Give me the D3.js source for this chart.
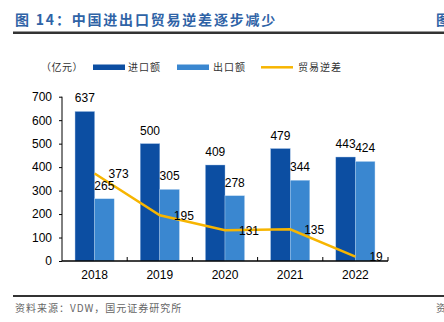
<!DOCTYPE html>
<html>
<head>
<meta charset="utf-8">
<script src="https://cdn.jsdelivr.net/npm/d3@7"></script>
<style>
  body { margin: 0; background: #fff; }
  svg { display: block; }
</style>
</head>
<body>
<script>
// data
var years = ["2018", "2019", "2020", "2021", "2022"];
var imports = [637, 500, 409, 479, 443];
var exports = [265, 305, 278, 344, 424];
var deficit = [373, 195, 131, 135, 19];
var yTicks = [0, 100, 200, 300, 400, 500, 600, 700];

var W = 444, H = 322;
var cjk = "'Noto Sans CJK SC', sans-serif";
var latin = "'Liberation Sans', Arial, sans-serif";

var svg = d3.select("body").append("svg")
    .attr("width", W)
    .attr("height", H);

// title + rules
svg.append("text").attr("x", 15).attr("y", 25)
    .attr("font-family", cjk).attr("font-size", "14px").attr("font-weight", "bold")
    .attr("letter-spacing", "1.8px").attr("fill", "#2f63a6")
    .text("图 14：中国进出口贸易逆差逐步减少");
// the next page's heading, cut by the right edge as in the source
svg.append("text").attr("x", 436).attr("y", 25)
    .attr("font-family", cjk).attr("font-size", "14px").attr("font-weight", "bold")
    .attr("fill", "#2f63a6").text("图");
svg.append("rect").attr("x", 13).attr("y", 31.5).attr("width", W - 13).attr("height", 2.5).attr("fill", "#333");
svg.append("rect").attr("x", 13).attr("y", 295).attr("width", W - 13).attr("height", 2).attr("fill", "#333");

svg.append("text").attr("x", 15).attr("y", 312)
    .attr("font-family", cjk).attr("font-size", "10px").attr("letter-spacing", "1px")
    .attr("fill", "#666").text("资料来源：VDW，国元证券研究所");
svg.append("text").attr("x", 436).attr("y", 312)
    .attr("font-family", cjk).attr("font-size", "10px")
    .attr("fill", "#666").text("资");

// plot area
var x0 = 62, x1 = 388, yBottom = 261, yTop = 96.7;
var x = d3.scaleBand().domain(years).range([x0, x1]).paddingInner(0).paddingOuter(0);
var y = d3.scaleLinear().domain([0, 700]).range([yBottom, yTop]);
var barW = x.bandwidth() * 0.3;

var darkBlue = "#0c4ea2", lightBlue = "#3a87d0", gold = "#f7b500";

var g = svg.append("g");

// import bars
g.selectAll(".imp").data(imports).enter().append("rect")
    .attr("x", (d, i) => x(years[i]) + x.bandwidth() / 2 - barW)
    .attr("y", d => y(d))
    .attr("width", barW)
    .attr("height", d => yBottom - y(d))
    .attr("fill", darkBlue)
    .attr("stroke", "#9dbde6").attr("stroke-width", 0.4);

// export bars
g.selectAll(".exp").data(exports).enter().append("rect")
    .attr("x", (d, i) => x(years[i]) + x.bandwidth() / 2)
    .attr("y", d => y(d))
    .attr("width", barW)
    .attr("height", d => yBottom - y(d))
    .attr("fill", lightBlue)
    .attr("stroke", "#b8d4f0").attr("stroke-width", 0.4);

// y axis
var yAxis = svg.append("g").attr("transform", "translate(" + x0 + ",0)")
    .call(d3.axisLeft(y).tickValues(yTicks).tickSize(3).tickPadding(7));
yAxis.selectAll("path, line").attr("stroke", "#000");
yAxis.selectAll("text").attr("font-family", latin).attr("font-size", "12px").attr("fill", "#000");
yAxis.select(".domain").attr("d", "M0," + yTop + "V" + yBottom);

// x axis with ticks at band edges pointing up
var xAxisG = svg.append("g");
xAxisG.append("line").attr("x1", x0).attr("x2", x1).attr("y1", yBottom).attr("y2", yBottom)
    .attr("stroke", "#000").attr("stroke-width", 1.3);
xAxisG.selectAll(".tk").data(years.slice(1).concat(["end"])).enter().append("line")
    .attr("x1", (d, i) => x0 + x.bandwidth() * (i + 1))
    .attr("x2", (d, i) => x0 + x.bandwidth() * (i + 1))
    .attr("y1", yBottom).attr("y2", yBottom - 4)
    .attr("stroke", "#000");
xAxisG.selectAll(".xl").data(years).enter().append("text")
    .attr("x", d => x(d) + x.bandwidth() / 2)
    .attr("y", 279)
    .attr("text-anchor", "middle")
    .attr("font-family", latin).attr("font-size", "12px")
    .text(d => d);

// deficit line
var line = d3.line()
    .x((d, i) => x(years[i]) + x.bandwidth() / 2)
    .y(d => y(d));
g.append("path").datum(deficit)
    .attr("d", line)
    .attr("fill", "none")
    .attr("stroke", gold)
    .attr("stroke-width", 2.5);

// value labels
g.selectAll(".impl").data(imports).enter().append("text")
    .attr("x", (d, i) => x(years[i]) + x.bandwidth() / 2 - barW / 2)
    .attr("y", d => y(d) - 9)
    .attr("text-anchor", "middle")
    .attr("font-family", latin).attr("font-size", "12px")
    .text(d => d);
g.selectAll(".expl").data(exports).enter().append("text")
    .attr("x", (d, i) => x(years[i]) + x.bandwidth() / 2 + barW / 2)
    .attr("y", d => y(d) - 9)
    .attr("text-anchor", "middle")
    .attr("font-family", latin).attr("font-size", "12px")
    .text(d => d);
g.selectAll(".defl").data(deficit).enter().append("text")
    .attr("x", (d, i) => x(years[i]) + x.bandwidth() / 2 + 14)
    .attr("y", d => y(d) + 4.5)
    .attr("font-family", latin).attr("font-size", "12px")
    .text(d => d);

// legend
var leg = svg.append("g").attr("font-family", cjk).attr("font-size", "10px").attr("fill", "#333");
leg.append("text").attr("x", 41).attr("y", 71).attr("letter-spacing", "0.5px").text("（亿元）");
leg.append("rect").attr("x", 93).attr("y", 64.5).attr("width", 32).attr("height", 5.5).attr("fill", darkBlue);
leg.append("text").attr("x", 128).attr("y", 71).attr("letter-spacing", "1px").text("进口额");
leg.append("rect").attr("x", 177).attr("y", 64.5).attr("width", 32).attr("height", 5.5).attr("fill", lightBlue);
leg.append("text").attr("x", 213).attr("y", 71).attr("letter-spacing", "1px").text("出口额");
leg.append("line").attr("x1", 261).attr("x2", 293).attr("y1", 67.3).attr("y2", 67.3)
    .attr("stroke", gold).attr("stroke-width", 2.5);
leg.append("text").attr("x", 298).attr("y", 71).attr("letter-spacing", "1px").text("贸易逆差");
</script>
</body>
</html>
